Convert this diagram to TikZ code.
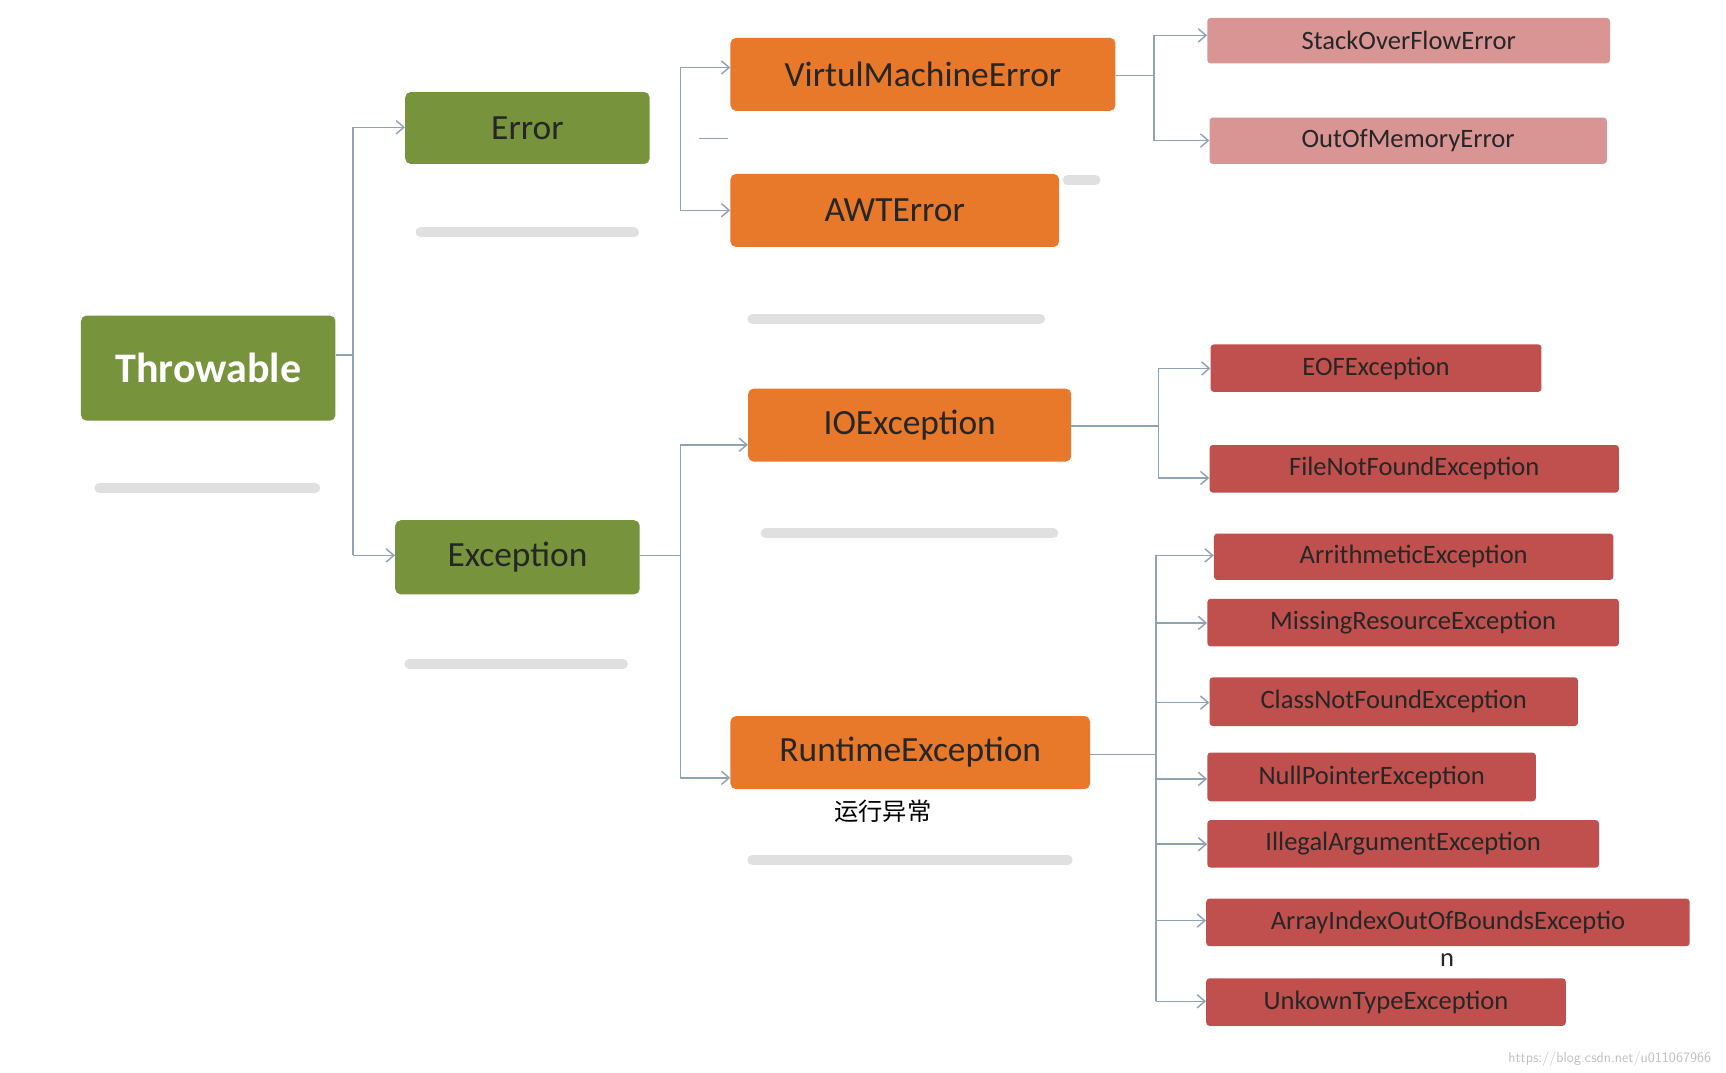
\documentclass[tikz,border=0pt]{standalone}
\usepackage{fontspec}
\setmainfont{Carlito}
\newfontfamily\cjk{Noto Sans CJK SC}
\usetikzlibrary{arrows.meta}
\definecolor{grn}{HTML}{77933C}
\definecolor{org}{HTML}{E8782A}
\definecolor{pnk}{HTML}{D99594}
\definecolor{rd}{HTML}{C0504D}
\definecolor{ln}{HTML}{8FA3B7}
\begin{document}
\begin{tikzpicture}[x=1pt,y=-1pt,
  box/.style={rounded corners=5pt,inner sep=0pt,anchor=north west,align=center},
  big/.style={box,font=\fontsize{32}{34}\selectfont,text=black!85},
  small/.style={box,font=\fontsize{24}{26}\selectfont,text=black!85,rounded corners=3pt},
  con/.style={draw=ln,line width=1.3pt},
  arr/.style={con,-{Straight Barb[length=7pt,width=12pt]}},
  shd/.style={line width=9pt,line cap=round,draw=black!12}]
\useasboundingbox[fill=white] (0,0) rectangle (1560,969);
% shadows
\draw[shd] (380,210)--(573,210);
\draw[shd] (680,288)--(940,288);
\draw[shd] (965,163)--(990,163);
\draw[shd] (90,441)--(285,441);
\draw[shd] (692,482)--(952,482);
\draw[shd] (370,600)--(563,600);
\draw[shd] (680,777)--(965,777);
% nodes
\newcommand{\mybx}[7]{\node[#1,fill=#2,minimum width=#5-#3,minimum height=#6-#4] (#7) at (#3,#4) {};}
\mybx{box}{grn}{73}{285}{303}{380}{thr}
\node[font=\fontsize{38}{40}\selectfont\bfseries,text=white] at (thr.center) {Throwable};
\mybx{big}{grn}{366}{83}{587}{148}{err}
\node[font=\fontsize{32}{34}\selectfont,text=black!85] at (err.center) {Error};
\mybx{big}{grn}{357}{470}{578}{537}{exc}
\node[font=\fontsize{32}{34}\selectfont,text=black!85] at (exc.center) {Exception};
\mybx{big}{org}{660}{34}{1008}{100}{vme}
\node[font=\fontsize{32}{34}\selectfont,text=black!85] at (vme.center) {VirtulMachineError};
\mybx{big}{org}{660}{157}{957}{223}{awt}
\node[font=\fontsize{32}{34}\selectfont,text=black!85] at (awt.center) {AWTError};
\mybx{big}{org}{676}{351}{968}{417}{ioe}
\node[font=\fontsize{32}{34}\selectfont,text=black!85] at (ioe.center) {IOException};
\mybx{big}{org}{660}{647}{985}{713}{rte}
\node[font=\fontsize{32}{34}\selectfont,text=black!85] at (rte.center) {RuntimeException};
\newcommand{\mysmall}[7]{\mybx{small}{#1}{#2}{#3}{#4}{#5}{#6}\node[font=\fontsize{24}{26}\selectfont,text=black!85] at (#6.center) {#7};}
\mysmall{pnk}{1091}{16}{1455}{57}{so}{StackOverFlowError}
\mysmall{pnk}{1093}{106}{1452}{148}{oom}{OutOfMemoryError}
\mysmall{rd}{1094}{311}{1393}{354}{eof}{EOFException}
\mysmall{rd}{1093}{402}{1463}{445}{fnf}{FileNotFoundException}
\mysmall{rd}{1097}{482}{1458}{524}{ari}{ArrithmeticException}
\mysmall{rd}{1091}{541}{1463}{584}{mis}{MissingResourceException}
\mysmall{rd}{1093}{612}{1426}{656}{cnf}{ClassNotFoundException}
\mysmall{rd}{1091}{680}{1388}{724}{npe}{NullPointerException}
\mysmall{rd}{1091}{741}{1445}{784}{iae}{IllegalArgumentException}
\mysmall{rd}{1090}{812}{1527}{855}{aio}{ArrayIndexOutOfBoundsExceptio}
\mysmall{rd}{1090}{884}{1415}{927}{ute}{UnkownTypeException}
\node[font=\cjk\fontsize{22}{24}\selectfont] (cn) at (798,733) {运行异常};
\node[font=\fontsize{24}{26}\selectfont,text=black!85] (nn) at (1308,868) {n};
\node[font=\sffamily\fontsize{13}{14}\selectfont,text=black!25] (wm) at (1455,957) {https://blog.csdn.net/u011067966};
% connectors
\draw[con] (thr.east |- 0,321) -- (319,321);
\draw[con] (319,115) -- (319,502);
\draw[arr] (319,115) -- (err.west |- 0,115);
\draw[arr] (319,502) -- (exc.west |- 0,502);
\draw[con] (615,61) -- (615,190);
\draw[arr] (615,61) -- (vme.west |- 0,61);
\draw[arr] (615,190) -- (awt.west |- 0,190);
\draw[con] (632,125) -- (658,125);
\draw[con] (exc.east |- 0,502) -- (615,502);
\draw[con] (615,402) -- (615,703);
\draw[arr] (615,402) -- (ioe.west |- 0,402);
\draw[arr] (615,703) -- (rte.west |- 0,703);
\draw[con] (vme.east |- 0,68) -- (1043,68);
\draw[con] (1043,32) -- (1043,127);
\draw[arr] (1043,32) -- (so.west |- 0,32);
\draw[arr] (1043,127) -- (oom.west |- 0,127);
\draw[con] (ioe.east |- 0,385) -- (1047,385);
\draw[con] (1047,333) -- (1047,432);
\draw[arr] (1047,333) -- (eof.west |- 0,333);
\draw[arr] (1047,432) -- (fnf.west |- 0,432);
\draw[con] (rte.east |- 0,682) -- (1045,682);
\draw[con] (1045,502) -- (1045,905);
\foreach \n/\y in {ari/502,mis/563,cnf/635,npe/704,iae/763,aio/832,ute/905}
  \draw[arr] (1045,\y) -- (\n.west |- 0,\y);
\end{tikzpicture}
\end{document}
